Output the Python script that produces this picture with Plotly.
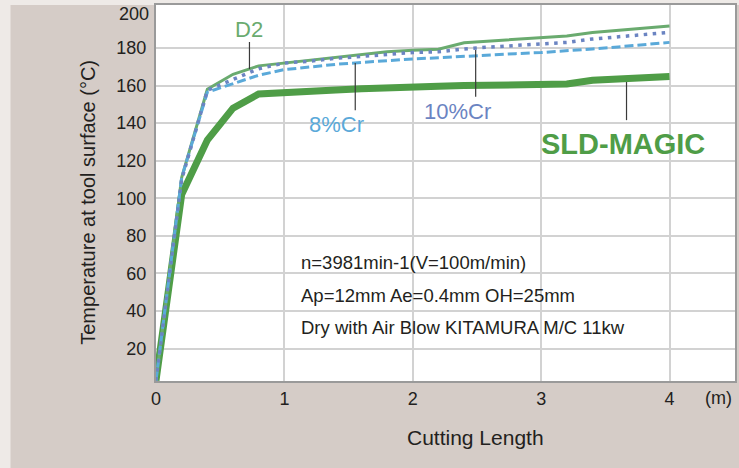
import plotly.graph_objects as go

# ---- data ----
cutting_length = [0, 0.2, 0.4, 0.6, 0.8, 1.0, 1.2, 1.4, 1.6, 1.8, 2.0, 2.2, 2.4, 2.6, 2.8, 3.0, 3.2, 3.4, 3.6, 3.8, 4.0]
d2 = [3, 111, 158, 166, 170.5, 172, 173.5, 175, 176.5, 178, 178.8, 179.4, 182.8, 183.7, 184.6, 185.5, 186.4, 188.3, 189.4, 190.6, 191.7]
cr10 = [3, 110, 157.5, 163, 169, 172, 173, 174.5, 175.5, 176.8, 177.6, 178, 179.5, 180.5, 181.4, 182.2, 183, 184.8, 186, 187.2, 188.3]
cr8 = [3, 111, 156.5, 161, 165.5, 168.5, 170, 171.3, 172.3, 173.3, 174.2, 174.8, 175.6, 176.3, 177, 177.6, 178.4, 179.5, 180.6, 181.8, 183]
sld = [3, 102, 131, 148, 155.5, 156.5, 157, 157.6, 158.3, 159, 159.5, 159.7, 160, 160.2, 160.4, 160.6, 160.8, 162.8, 163.5, 164, 164.8]

x_ticks = [0, 1, 2, 3, 4]
y_ticks = [20, 40, 60, 80, 100, 120, 140, 160, 180]
conditions = ["n=3981min-1(V=100m/min)", "Ap=12mm Ae=0.4mm OH=25mm", "Dry with Air Blow KITAMURA M/C 11kw"]

TXT = "#231f20"
FONT = "Liberation Sans, Arial, sans-serif"
C_D2 = "#6aab6f"
C_10 = "#6b84c2"
C_8 = "#5aa9d9"
C_SLD = "#4f9d47"

fig = go.Figure()
fig.add_trace(go.Scatter(x=cutting_length, y=sld, mode="lines", line=dict(color=C_SLD, width=7), name="SLD-MAGIC"))
fig.add_trace(go.Scatter(x=cutting_length, y=d2, mode="lines", line=dict(color=C_D2, width=3), name="D2"))
fig.add_trace(go.Scatter(x=cutting_length, y=cr8, mode="lines", line=dict(color=C_8, width=3, dash="9px,4px"), name="8%Cr"))
fig.add_trace(go.Scatter(x=cutting_length, y=cr10, mode="lines", line=dict(color=C_10, width=3.5, dash="3.5px,5.5px"), name="10%Cr"))

shapes = [
    # panel background
    dict(type="rect", xref="paper", yref="paper", x0=-0.2513, x1=1.02, y0=-0.24, y1=1.0,
         fillcolor="#d5ccc7", line=dict(width=0), layer="below"),
    # plot white area
    dict(type="rect", xref="paper", yref="paper", x0=0, x1=1, y0=0, y1=1,
         fillcolor="white", line=dict(width=0), layer="below"),
]
# leader lines
for lx, ly0, ly1 in [(0.728, 183.2, 168.8), (1.552, 172.0, 146.9), (2.49, 178.9, 154.0), (3.665, 161.9, 141.6)]:
    shapes.append(dict(type="line", xref="x", yref="y", x0=lx, x1=lx, y0=ly0, y1=ly1,
                       line=dict(color="#3a3a3a", width=1.2)))

annotations = [
    dict(x=0.728, y=190.1, text="D2", font=dict(color=C_D2, size=22, family=FONT)),
    dict(x=1.408, y=139.5, text="8%Cr", font=dict(color=C_8, size=22, family=FONT)),
    dict(x=2.348, y=146.4, text="10%Cr", font=dict(color=C_10, size=22, family=FONT)),
    dict(x=3.641, y=129.1, text="<b>SLD-MAGIC</b>", font=dict(color=C_SLD, size=29, family=FONT)),
]
for t, yv in zip(conditions, [66.0, 48.4, 31.4]):
    annotations.append(dict(x=1.117, y=yv, text=t, xanchor="left", font=dict(color=TXT, size=18.5, family=FONT)))
for a in annotations:
    a.setdefault("xref", "x")
    a.setdefault("yref", "y")
    a.setdefault("showarrow", False)
    a.setdefault("yanchor", "middle")

annotations += [
    dict(xref="paper", yref="y", x=0, y=200, xanchor="right", yanchor="middle", xshift=-5, yshift=-4,
         text="200", showarrow=False, font=dict(color=TXT, size=18, family=FONT)),
    dict(xref="paper", yref="paper", x=0.5525, y=-0.149, text="Cutting Length", showarrow=False,
         xanchor="center", yanchor="middle", font=dict(color=TXT, size=21, family=FONT)),
    dict(xref="paper", yref="paper", x=0.9707, y=-0.045, text="(m)", showarrow=False,
         xanchor="center", yanchor="middle", font=dict(color=TXT, size=18, family=FONT)),
    dict(xref="paper", yref="paper", x=-0.1179, y=0.476, text="Temperature at tool surface (°C)",
         textangle=-90, showarrow=False, xanchor="center", yanchor="middle",
         font=dict(color=TXT, size=20, family=FONT)),
]

fig.update_layout(
    width=739, height=468,
    margin=dict(l=156, r=2, t=5, b=87),
    paper_bgcolor="#eeeae7",
    plot_bgcolor="white",
    showlegend=False,
    shapes=shapes,
    annotations=annotations,
    font=dict(family=FONT, color=TXT, size=18),
)
fig.update_xaxes(range=[0, 4.51], tickvals=x_ticks, ticktext=[str(v) for v in x_ticks],
                 showgrid=True, gridcolor="#d2d2d2", gridwidth=2, zeroline=False,
                 showline=True, linecolor="#9a9a9a", linewidth=2, mirror=True,
                 ticks="", ticklabelstandoff=0, tickfont=dict(size=18, color=TXT))
fig.update_yaxes(range=[2.7, 202.9], tickvals=y_ticks, ticktext=[str(v) for v in y_ticks],
                 showgrid=True, gridcolor="#d2d2d2", gridwidth=1.5, zeroline=False,
                 showline=True, linecolor="#9a9a9a", linewidth=2, mirror=True,
                 ticks="", ticklabelstandoff=4, tickfont=dict(size=18, color=TXT))

fig.write_html("out.html")
